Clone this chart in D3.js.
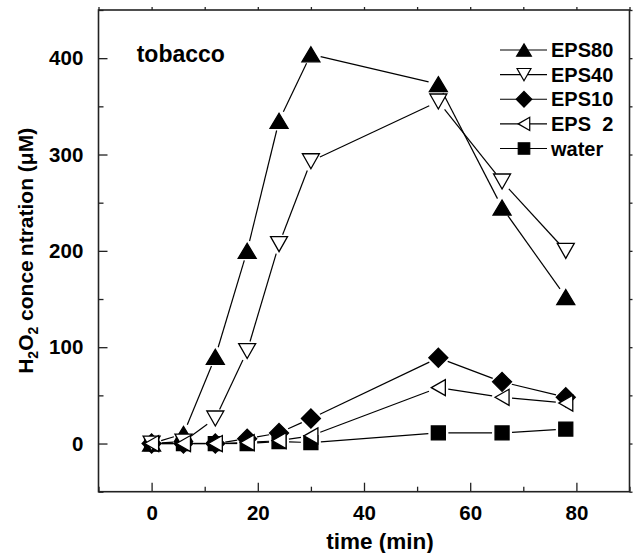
<!DOCTYPE html>
<html>
<head>
<meta charset="utf-8">
<script src="https://cdn.jsdelivr.net/npm/d3@7/dist/d3.min.js"></script>
<style>
  html, body { margin: 0; padding: 0; background: #fff; }
  svg { display: block; }
  text { font-family: "Liberation Sans", Arial, Helvetica, sans-serif; font-weight: bold; fill: #000; }
</style>
</head>
<body>
<div id="chart"></div>
<script>
// time points (min)
const times = [0, 6, 12, 18, 24, 30, 54, 66, 78];

// H2O2 concentration (uM) per treatment
const eps80 = [0, 10, 90, 200, 335, 404, 373, 245, 152];
const eps40 = [0, 2, 26, 96, 207, 293, 355, 272, 200];
const eps10 = [0, 0, 0, 5, 11, 26, 89, 64, 48];
const eps2 = [0, 0, 0, 1, 3, 8, 58, 48, 42];
const water = [0, 0, 0, 0, 2, 1, 11, 11, 15];

const seriesNames = ["EPS80", "EPS40", "EPS10", "EPS  2", "water"];
const xTicks = [0, 20, 40, 60, 80];
const yTicks = [0, 100, 200, 300, 400];

const width = 633, height = 553;
const box = { left: 98.5, right: 629.5, top: 10, bottom: 491.7 };

const svg = d3.select("#chart").append("svg")
  .attr("width", width)
  .attr("height", height);

const xScale = d3.scaleLinear().domain([-10, 90]).range([box.left, box.right]);
const yScale = d3.scaleLinear().domain([-50, 450]).range([box.bottom, box.top]);

// marker shapes, centred on the point
function markerPath(type, k) {
  k = k || 1;
  if (type === "up") {
    const w = 18 * k, h = 15 * k;
    return `M0,${-h / 2}L${w / 2},${h / 2}L${-w / 2},${h / 2}Z`;
  }
  if (type === "down") {
    const w = 17 * k, h = 15 * k;
    return `M0,${h / 2}L${w / 2},${-h / 2}L${-w / 2},${-h / 2}Z`;
  }
  if (type === "left") {
    const w = 14 * k, h = 16 * k;
    return `M${-w / 2},0L${w / 2},${-h / 2}L${w / 2},${h / 2}Z`;
  }
  if (type === "diamond") {
    const r = 9.5 * k;
    return `M0,${-r}L${r},0L0,${r}L${-r},0Z`;
  }
  const s = 14 * k;
  return `M${-s / 2},${-s / 2}h${s}v${s}h${-s}Z`;
}

const series = [
  { name: seriesNames[0], values: eps80, shape: "up", fill: "#000" },
  { name: seriesNames[1], values: eps40, shape: "down", fill: "#fff" },
  { name: seriesNames[2], values: eps10, shape: "diamond", fill: "#000" },
  { name: seriesNames[3], values: eps2, shape: "left", fill: "#fff" },
  { name: seriesNames[4], values: water, shape: "square", fill: "#000" }
];

// axes: ticks point inward on bottom/left
const xAxis = d3.axisBottom(xScale).tickValues(xTicks).tickSizeInner(-9).tickSizeOuter(0).tickPadding(13.6);
const xMinor = d3.axisBottom(xScale).tickValues([-10, 10, 30, 50, 70, 90]).tickSizeInner(-5).tickSizeOuter(0).tickFormat("");
const yAxis = d3.axisLeft(yScale).tickValues(yTicks).tickSizeInner(-9).tickSizeOuter(0).tickPadding(15.2);
const yMinor = d3.axisLeft(yScale).tickValues([-50, 50, 150, 250, 350, 450]).tickSizeInner(-5).tickSizeOuter(0).tickFormat("");

// small outward ticks on top and right
const xTop = d3.axisTop(xScale).tickValues(d3.range(-10, 91, 10)).tickSizeInner(3).tickSizeOuter(0).tickFormat("");
const yRight = d3.axisRight(yScale).tickValues(d3.range(-50, 451, 50)).tickSizeInner(3).tickSizeOuter(0).tickFormat("");

svg.append("g").attr("transform", `translate(0,${box.bottom})`).call(xMinor);
svg.append("g").attr("class", "xaxis").attr("transform", `translate(0,${box.bottom})`).call(xAxis);
svg.append("g").attr("transform", `translate(${box.left},0)`).call(yMinor);
svg.append("g").attr("class", "yaxis").attr("transform", `translate(${box.left},0)`).call(yAxis);
svg.append("g").attr("transform", `translate(0,${box.top})`).call(xTop);
svg.append("g").attr("transform", `translate(${box.right},0)`).call(yRight);

svg.selectAll(".domain").remove();
svg.selectAll(".tick line").attr("stroke", "#222").attr("stroke-width", 1.3);
svg.selectAll(".xaxis text, .yaxis text")
  .style("font-size", "20.5px")
  .style("font-family", "'Liberation Sans', Arial, sans-serif")
  .style("font-weight", "bold")
  .attr("fill", "#000");

// frame
svg.append("rect")
  .attr("x", box.left)
  .attr("y", box.top)
  .attr("width", box.right - box.left)
  .attr("height", box.bottom - box.top)
  .attr("fill", "none")
  .attr("stroke", "#222")
  .attr("stroke-width", 1.6);

// connecting lines stop short of the markers
const gap = 10;
const lineLayer = svg.append("g");
series.forEach((s) => {
  for (let i = 0; i < times.length - 1; i++) {
    const x1 = xScale(times[i]), y1 = yScale(s.values[i]);
    const x2 = xScale(times[i + 1]), y2 = yScale(s.values[i + 1]);
    const d = Math.hypot(x2 - x1, y2 - y1);
    if (d <= 2 * gap + 1) continue;
    const ux = (x2 - x1) / d, uy = (y2 - y1) / d;
    lineLayer.append("line")
      .attr("x1", x1 + ux * gap).attr("y1", y1 + uy * gap)
      .attr("x2", x2 - ux * gap).attr("y2", y2 - uy * gap)
      .attr("stroke", "#000")
      .attr("stroke-width", 1.2);
  }
});

// markers, water first so open triangles end on top
const drawOrder = [4, 2, 0, 1, 3];
drawOrder.forEach((idx) => {
  const s = series[idx];
  svg.append("g").selectAll("path")
    .data(times.map((t, i) => ({ t: t, v: s.values[i] })))
    .join("path")
    .attr("transform", (d) => `translate(${xScale(d.t)},${yScale(d.v)})`)
    .attr("d", markerPath(s.shape))
    .attr("fill", s.fill)
    .attr("stroke", "#000")
    .attr("stroke-width", 1.3);
});

// legend
const legendY = d3.scalePoint().domain(seriesNames).range([50, 148.5]);
const legend = svg.append("g");
series.forEach((s) => {
  const ly = legendY(s.name);
  legend.append("line")
    .attr("x1", 500).attr("x2", 547)
    .attr("y1", ly).attr("y2", ly)
    .attr("stroke", "#000").attr("stroke-width", 1.2);
  legend.append("path")
    .attr("transform", `translate(524,${ly})`)
    .attr("d", markerPath(s.shape, 0.82))
    .attr("fill", s.fill)
    .attr("stroke", "#000")
    .attr("stroke-width", 1.2);
  legend.append("text")
    .attr("x", 551)
    .attr("y", ly + 7)
    .style("font-size", "20px")
    .style("white-space", "pre")
    .attr("xml:space", "preserve")
    .text(s.name);
});

// panel label
svg.append("text")
  .attr("x", 136.7)
  .attr("y", 61.7)
  .style("font-size", "23px")
  .text("tobacco");

// axis titles
svg.append("text")
  .attr("x", 380)
  .attr("y", 549)
  .attr("text-anchor", "middle")
  .style("font-size", "22.5px")
  .text("time (min)");

const yTitle = svg.append("text")
  .attr("transform", `translate(33,${(box.top + box.bottom) / 2}) rotate(-90)`)
  .attr("text-anchor", "middle")
  .style("font-size", "21px");
yTitle.append("tspan").text("H");
yTitle.append("tspan").attr("dy", 5).style("font-size", "14px").text("2");
yTitle.append("tspan").attr("dy", -5).text("O");
yTitle.append("tspan").attr("dy", 5).style("font-size", "14px").text("2");
yTitle.append("tspan").attr("dy", -5).text(" conce");
yTitle.append("tspan").attr("dx", 4).text("ntration (\u03bcM)");
</script>
</body>
</html>
